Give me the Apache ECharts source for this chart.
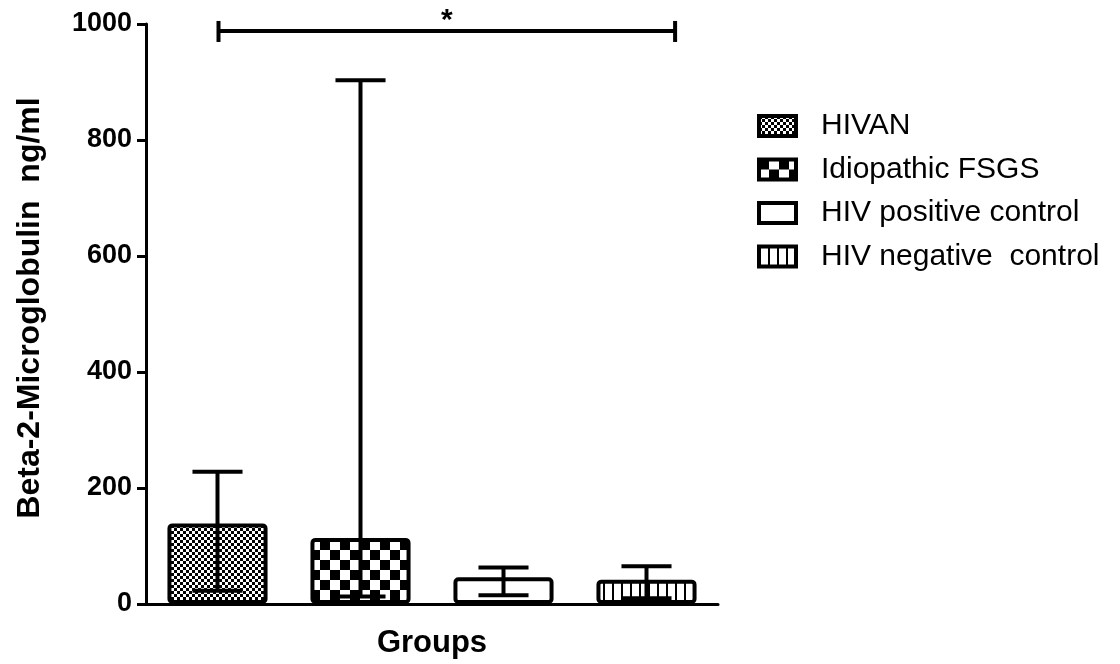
<!DOCTYPE html>
<html>
<head>
<meta charset="utf-8">
<title>Beta-2-Microglobulin</title>
<script src="https://cdn.jsdelivr.net/npm/echarts@6/dist/echarts.min.js"></script>
<style>
  html, body { margin: 0; padding: 0; background: #fff; }
  #chart { width: 1120px; height: 664px; }
</style>
</head>
<body>
<div id="chart"></div>
<script>
// data
var groups = ['HIVAN', 'Idiopathic FSGS', 'HIV positive control', 'HIV negative  control'];
var means = [139, 114, 46, 42];
var errLow = [23, 13, 15, 10];
var errHigh = [228, 903, 63, 65];
var yTicks = { min: 0, max: 1000, interval: 200 };
// significance bracket between HIVAN and HIV negative control
var sigFrom = 0;
var sigTo = 3;
var sigY = 988;
var sigLabel = '*';

var FONT = 'Liberation Sans, Arial, sans-serif';

// little canvases used as fill patterns
function checker(cell) {
  var c = document.createElement('canvas');
  c.width = c.height = cell * 2;
  var ctx = c.getContext('2d');
  ctx.fillStyle = '#fff';
  ctx.fillRect(0, 0, c.width, c.height);
  ctx.fillStyle = '#000';
  ctx.fillRect(0, 0, cell, cell);
  ctx.fillRect(cell, cell, cell, cell);
  return c;
}
function stripes(step, w) {
  var c = document.createElement('canvas');
  c.width = step; c.height = 4;
  var ctx = c.getContext('2d');
  ctx.fillStyle = '#fff';
  ctx.fillRect(0, 0, step, 4);
  ctx.fillStyle = '#000';
  ctx.fillRect(0, 0, w, 4);
  return c;
}
var fills = [
  { image: checker(3), repeat: 'repeat' },
  { image: checker(10), repeat: 'repeat' },
  '#ffffff',
  { image: stripes(9, 2), repeat: 'repeat' }
];

var chart = echarts.init(document.getElementById('chart'));

var barSeries = groups.map(function (g, i) {
  var d = groups.map(function (x, j) { return j === i ? means[j] : '-'; });
  return {
    name: g,
    type: 'bar',
    stack: 'all',
    barWidth: '70%',
    data: d,
    itemStyle: {
      color: fills[i],
      borderColor: '#000',
      borderWidth: 4,
      borderRadius: 3
    },
    emphasis: { disabled: true }
  };
});

var errSeries = {
  type: 'custom',
  z: 5,
  silent: true,
  data: groups.map(function (g, i) { return [i, errLow[i], errHigh[i]]; }),
  renderItem: function (params, api) {
    var x = api.value(0);
    var lo = api.coord([x, api.value(1)]);
    var hi = api.coord([x, api.value(2)]);
    var half = api.size([1, 0])[0] * 0.175;
    var st = { stroke: '#000', lineWidth: 4, fill: null };
    return {
      type: 'group',
      children: [
        { type: 'line', shape: { x1: lo[0], y1: lo[1], x2: hi[0], y2: hi[1] }, style: st },
        { type: 'line', shape: { x1: hi[0] - half, y1: hi[1], x2: hi[0] + half, y2: hi[1] }, style: st },
        { type: 'line', shape: { x1: lo[0] - half, y1: lo[1], x2: lo[0] + half, y2: lo[1] }, style: st }
      ]
    };
  }
};

var sigSeries = {
  type: 'custom',
  z: 5,
  silent: true,
  clip: false,
  data: [[sigFrom, sigTo, sigY]],
  renderItem: function (params, api) {
    var a = api.coord([api.value(0), api.value(2)]);
    var b = api.coord([api.value(1), api.value(2)]);
    var bw = api.size([1, 0])[0];
    var x1 = a[0] + 1, x2 = b[0] + bw * 0.2;
    var y = a[1];
    var st = { stroke: '#000', lineWidth: 4, fill: null };
    return {
      type: 'group',
      children: [
        { type: 'line', shape: { x1: x1, y1: y, x2: x2, y2: y }, style: st },
        { type: 'line', shape: { x1: x1, y1: y - 10, x2: x1, y2: y + 11 }, style: st },
        { type: 'line', shape: { x1: x2, y1: y - 10, x2: x2, y2: y + 11 }, style: st },
        { type: 'text', style: { x: (x1 + x2) / 2, y: y - 10, text: sigLabel, fill: '#000',
          font: 'bold 30px ' + FONT, align: 'center', verticalAlign: 'middle' } }
      ]
    };
  }
};

chart.setOption({
  animation: false,
  backgroundColor: '#fff',
  textStyle: { fontFamily: FONT, color: '#000' },
  grid: { left: 146, right: 402, top: 24, bottom: 58 },
  legend: {
    left: 752,
    top: 106,
    orient: 'vertical',
    itemWidth: 37,
    itemHeight: 20,
    itemGap: 13.5,
    icon: 'rect',
    selectedMode: false,
    data: groups,
    itemStyle: { borderColor: '#000', borderWidth: 4 },
    textStyle: { fontFamily: FONT, fontSize: 30, color: '#000', padding: [0, 0, 0, 20] }
  },
  xAxis: {
    type: 'category',
    data: groups,
    name: 'Groups',
    nameLocation: 'middle',
    nameGap: 24,
    nameTextStyle: { fontFamily: FONT, fontSize: 31, fontWeight: 'bold', color: '#000' },
    axisLine: { lineStyle: { color: '#000', width: 3 } },
    axisTick: { alignWithLabel: true, length: 11, lineStyle: { color: '#000', width: 3 } },
    axisLabel: { show: false },
    splitLine: { show: false }
  },
  yAxis: {
    type: 'value',
    min: yTicks.min,
    max: yTicks.max,
    interval: yTicks.interval,
    name: 'Beta-2-Microglobulin  ng/ml',
    nameLocation: 'middle',
    nameGap: 100,
    nameTextStyle: { fontFamily: FONT, fontSize: 32, fontWeight: 'bold', color: '#000', padding: [0, 0, 0, 12] },
    axisLine: { show: true, lineStyle: { color: '#000', width: 3 } },
    axisTick: { show: true, length: 9, lineStyle: { color: '#000', width: 3 } },
    axisLabel: {
      fontFamily: FONT, fontSize: 27, fontWeight: 'bold', color: '#000', margin: 14,
      formatter: function (v) { return String(v); }
    },
    splitLine: { show: false }
  },
  series: barSeries.concat([errSeries, sigSeries])
});
</script>
</body>
</html>
